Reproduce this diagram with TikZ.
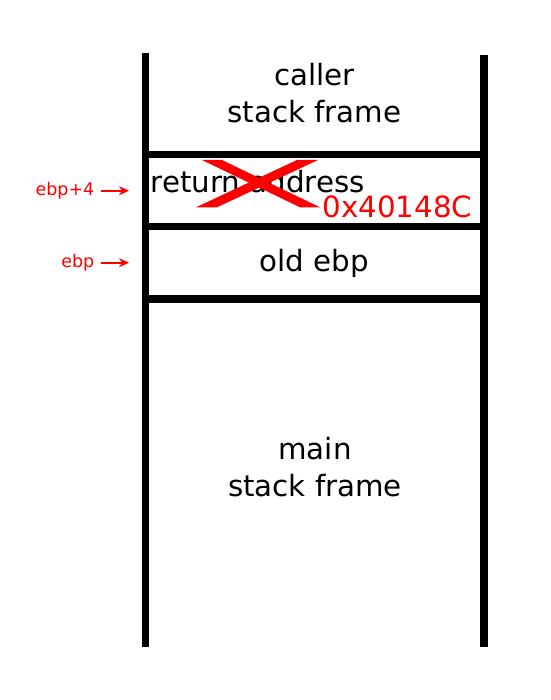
\documentclass[tikz,border=0pt]{standalone}
\usepackage{fontspec}
\setmainfont{DejaVu Sans}
\usetikzlibrary{arrows.meta}
\begin{document}
\begin{tikzpicture}[x=1pt,y=-1pt]
  \tikzstyle{wall} = [line width=7.5pt, line cap=butt]
  \tikzstyle{big} = [inner sep=0pt, font=\fontsize{29.3}{37}\selectfont]
  \tikzstyle{small} = [inner sep=0pt, red, font=\fontsize{17.5}{21}\selectfont]
  \tikzstyle{ptr} = [red, line width=1.7pt, -{Stealth[length=10pt,width=9pt]}]
  \useasboundingbox (0,0) rectangle (550,700);
  % the two sides of the stack
  \coordinate (lt) at (145.5,53.3);
  \coordinate (lb) at (145.5,646.7);
  \coordinate (rt) at (484,55);
  \coordinate (rb) at (484,646.7);
  \draw[wall] (lt) -- (lb);
  \draw[wall] (rt) -- (rb);
  \foreach \y/\n in {154.3/1,226.7/2,299/3}{
    \coordinate (l\n) at (145.5,\y);
    \coordinate (r\n) at (484,\y);
    \draw[wall] (l\n) -- (r\n);
  }
  % frames
  \node[big, align=center] (caller) at (314.5,93.2) {caller\\stack frame};
  \node[big, anchor=base west] (ret) at (150.5,192.5) {return address};
  \node[big, anchor=base] (oldebp) at (314.4,271.5) {old ebp};
  \node[big, align=center] (main) at (315,467) {main\\stack frame};
  % overwritten return address
  \fill[red] (202,160) -- (222,160) -- (320,207.3) -- (300,207.3) -- cycle;
  \fill[red] (297,160) -- (318,160) -- (217,207.3) -- (196,207.3) -- cycle;
  \node[big, red, anchor=base west] (addr) at (322.5,217.5) {0x40148C};
  % pointers
  \node[small, anchor=east] (ebpfour) at (94.5,190.7) {ebp+4};
  \node[small, anchor=east] (ebp) at (94.5,262.7) {ebp};
  \coordinate (ta) at (129,190.7);
  \coordinate (tb) at (129,262.7);
  \draw[ptr, shorten <=6pt] (ebpfour.east) -- (ta);
  \draw[ptr, shorten <=6pt] (ebp.east) -- (tb);
\end{tikzpicture}
\end{document}
